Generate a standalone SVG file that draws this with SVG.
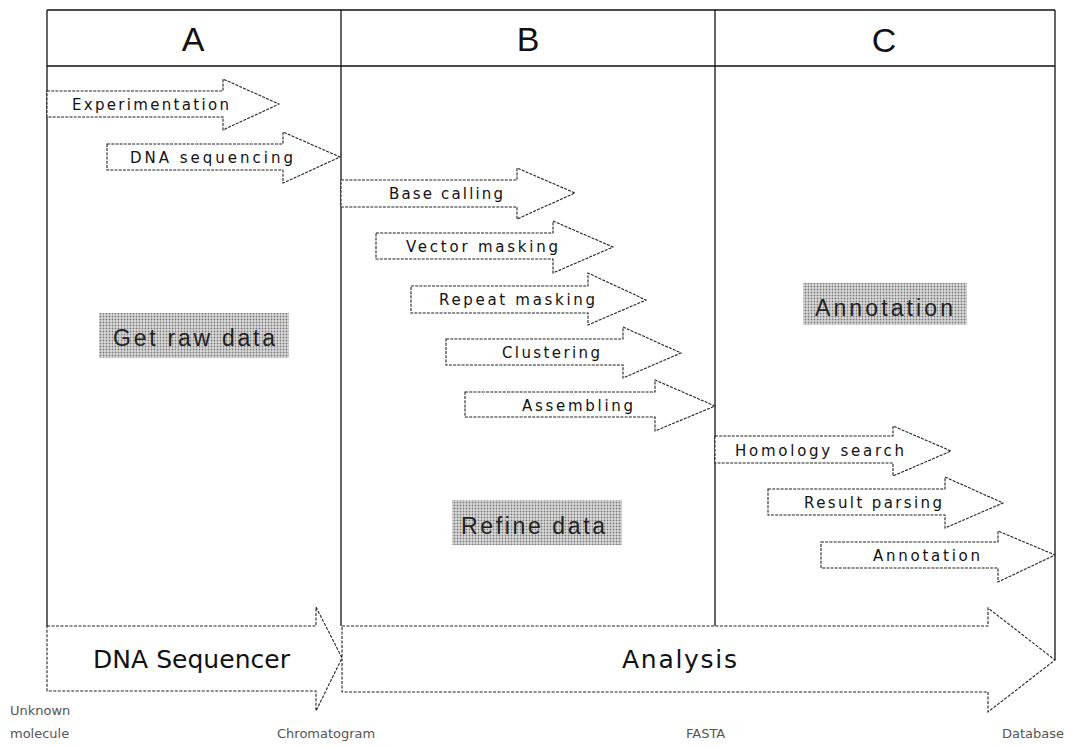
<svg xmlns="http://www.w3.org/2000/svg" width="1071" height="747" viewBox="0 0 1071 747">
<defs>
<pattern id="ht" width="3" height="3" patternUnits="userSpaceOnUse">
<rect width="3" height="3" fill="#dcdcdc"/>
<circle cx="1.5" cy="1.5" r="0.95" fill="#7a7a7a"/>
</pattern>
</defs>
<style>
.frame{fill:none;stroke:#111;stroke-width:1.3}
.arr{fill:#fff;stroke:#222;stroke-width:1.1;stroke-dasharray:3 1.2;stroke-linejoin:miter}
.big{fill:#fff;stroke:#222;stroke-width:1.1;stroke-dasharray:3 1.5}
.hdr{font-family:"Liberation Sans",Arial,sans-serif;font-size:34px;fill:#111;text-anchor:middle}
.lbl{font-family:"DejaVu Sans","Liberation Sans",sans-serif;font-size:15px;fill:#111}
.shd{fill:url(#ht)}
.shdt{font-family:"Liberation Sans",Arial,sans-serif;font-size:23px;fill:#222}
.bl{font-family:"DejaVu Sans","Liberation Sans",sans-serif;font-size:25px;fill:#111}
.sm{font-family:"DejaVu Sans","Liberation Sans",sans-serif;font-size:13px;fill:#555}
</style>
<rect width="1071" height="747" fill="#fff"/>
<g id="frame">
<line class="frame" x1="47" y1="10" x2="1055" y2="10"/>
<line class="frame" x1="47" y1="66" x2="1055" y2="66"/>
<line class="frame" x1="47" y1="10" x2="47" y2="626"/>
<line class="frame" x1="341" y1="10" x2="341" y2="626"/>
<line class="frame" x1="715" y1="10" x2="715" y2="626"/>
<line class="frame" x1="1055" y1="10" x2="1055" y2="660"/>
</g>
<g id="header-A"><text class="hdr" x="193" y="51">A</text></g>
<g id="header-B"><text class="hdr" x="528" y="51">B</text></g>
<g id="header-C"><text class="hdr" x="884" y="52">C</text></g>
<g id="get-raw-data">
<rect class="shd" x="99" y="313" width="190" height="45"/>
<text class="shdt" x="113" y="346" textLength="162" lengthAdjust="spacing">Get raw data</text>
</g>
<g id="refine-data">
<rect class="shd" x="452" y="500" width="170" height="45"/>
<text class="shdt" x="461" y="534" textLength="144" lengthAdjust="spacing">Refine data</text>
</g>
<g id="annotation-stage">
<rect class="shd" x="803" y="283" width="164" height="42"/>
<text class="shdt" x="815" y="316" textLength="138" lengthAdjust="spacing">Annotation</text>
</g>
<g id="experimentation">
<path class="arr" d="M47,91 H223 V79 L279,104 L223,130 V117 H47 Z"/>
<text class="lbl" x="72" y="110" textLength="157" lengthAdjust="spacing">Experimentation</text>
</g>
<g id="dna-sequencing">
<path class="arr" d="M107,144 H283 V132 L340,157 L283,183 V170 H107 Z"/>
<text class="lbl" x="130" y="163" textLength="163" lengthAdjust="spacing">DNA sequencing</text>
</g>
<g id="base-calling">
<path class="arr" d="M341,180 H517 V168 L575,193 L517,219 V207 H341 Z"/>
<text class="lbl" x="389" y="199" textLength="114" lengthAdjust="spacing">Base calling</text>
</g>
<g id="vector-masking">
<path class="arr" d="M376,233 H553 V221 L613,247 L553,273 V259 H376 Z"/>
<text class="lbl" x="406" y="252" textLength="152" lengthAdjust="spacing">Vector masking</text>
</g>
<g id="repeat-masking">
<path class="arr" d="M411,286 H588 V273 L646,300 L588,325 V313 H411 Z"/>
<text class="lbl" x="439" y="305" textLength="156" lengthAdjust="spacing">Repeat masking</text>
</g>
<g id="clustering">
<path class="arr" d="M446,339 H623 V327 L681,353 L623,378 V365 H446 Z"/>
<text class="lbl" x="502" y="358" textLength="98" lengthAdjust="spacing">Clustering</text>
</g>
<g id="assembling">
<path class="arr" d="M465,392 H655 V380 L715,406 L655,431 V417 H465 Z"/>
<text class="lbl" x="522" y="411" textLength="111" lengthAdjust="spacing">Assembling</text>
</g>
<g id="homology-search">
<path class="arr" d="M715,436 H893 V426 L951,451 L893,476 V463 H715 Z"/>
<text class="lbl" x="735" y="456" textLength="169" lengthAdjust="spacing">Homology search</text>
</g>
<g id="result-parsing">
<path class="arr" d="M768,489 H945 V477 L1003,503 L945,528 V515 H768 Z"/>
<text class="lbl" x="804" y="508" textLength="138" lengthAdjust="spacing">Result parsing</text>
</g>
<g id="annotation-step">
<path class="arr" d="M821,542 H998 V531 L1055,555 L998,582 V568 H821 Z"/>
<text class="lbl" x="873" y="561" textLength="107" lengthAdjust="spacing">Annotation</text>
</g>
<g id="connectors">
<g id="dna-sequencer">
<path class="big" d="M47,626 H316 V607 L342,658 L316,711 V691 H47 Z"/>
<text class="bl" x="93" y="668" textLength="197" lengthAdjust="spacing">DNA Sequencer</text>
</g>
<g id="analysis">
<path class="big" d="M342,626 H988 V608 L1055,660 L988,712 V692 H342 Z"/>
<text class="bl" x="622" y="668" textLength="115" lengthAdjust="spacing">Analysis</text>
</g>
</g>
<g id="unknown-molecule">
<text class="sm" x="10" y="715">Unknown</text>
<text class="sm" x="10" y="738">molecule</text>
</g>
<g id="chromatogram"><text class="sm" x="277" y="738">Chromatogram</text></g>
<g id="fasta"><text class="sm" x="686" y="738">FASTA</text></g>
<g id="database"><text class="sm" x="1002" y="738">Database</text></g>
</svg>
